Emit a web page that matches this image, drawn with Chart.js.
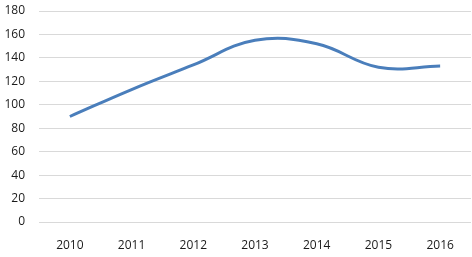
<!DOCTYPE html>
<html lang="en">
  <head>
    <meta charset="UTF-8" />
    <title>Line chart</title>
    <script src="https://cdn.jsdelivr.net/npm/chart.js@4.4.0/dist/chart.umd.min.js"></script>
    <style>
      html, body { margin: 0; padding: 0; background: #fff; }
      #wrap { width: 472px; height: 257px; }
    </style>
  </head>
  <body>
    <div id="wrap">
      <canvas id="lineChart" width="472" height="257"></canvas>
    </div>

    <script>
      // values
      const years = ["2010", "2011", "2012", "2013", "2014", "2015", "2016"];
      const values = [90, 113, 134, 155, 152, 132, 133];
      const yTicks = [0, 20, 40, 60, 80, 100, 120, 140, 160, 180];

      let ctx = document.getElementById("lineChart").getContext("2d");

      let myChart = new Chart(ctx, {
        type: "line",
        data: {
          labels: years,
          datasets: [
            {
              data: values,
              borderColor: "#4A7EBB",
              borderWidth: 3,
              tension: 0.4,
              pointRadius: 0,
              fill: false,
            },
          ],
        },
        options: {
          responsive: false,
          animation: false,
          layout: { padding: { top: 11, right: 1, bottom: 0, left: 0 } },
          plugins: { legend: { display: false }, tooltip: { enabled: false } },
          scales: {
            x: {
              offset: true,
              afterFit: (scale) => { scale.height = 35; },
              grid: { display: false, drawTicks: false },
              border: { display: false },
              ticks: {
                color: "#1a1a1a",
                padding: 16,
                font: { family: "Open Sans", size: 12 },
              },
            },
            y: {
              min: 0,
              max: 180,
              afterFit: (scale) => {
                scale.width = 39;
                // keep the plot top at the layout padding
                scale.paddingTop = 0;
                scale.paddingBottom = 0;
              },
              afterBuildTicks: (axis) => {
                axis.ticks = yTicks.map((v) => ({ value: v }));
              },
              grid: { color: "#d9d9d9", lineWidth: 1, drawTicks: false },
              border: { display: false },
              ticks: {
                color: "#1a1a1a",
                padding: 14,
                font: { family: "Open Sans", size: 12 },
              },
            },
          },
        },
      });
    </script>
  </body>
</html>
